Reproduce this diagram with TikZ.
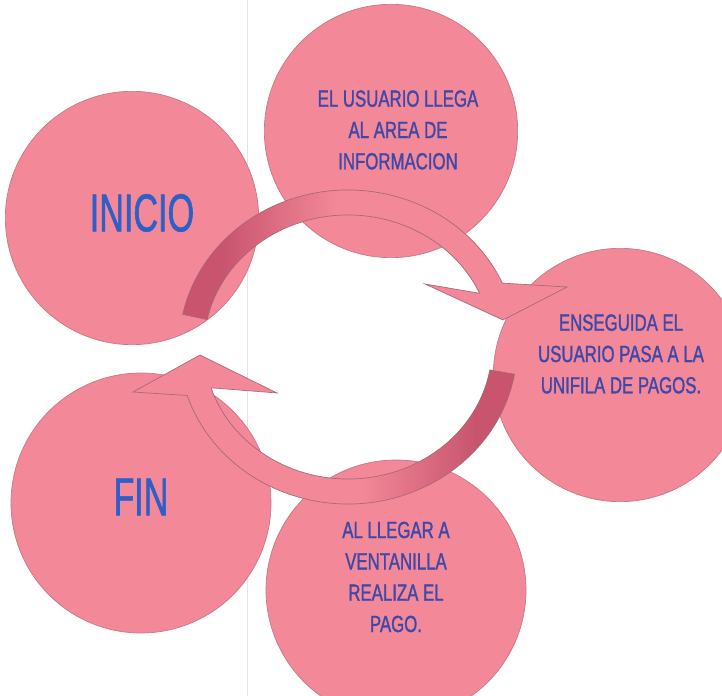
\documentclass[tikz,border=0pt]{standalone}
\usepackage{fontspec}
\setmainfont{Liberation Sans}
\newfontfamily\bigsans[FakeStretch=0.64, FakeBold=1]{Liberation Sans}
\newfontfamily\stepsans[FakeStretch=0.72, FakeBold=1.2]{Liberation Sans}
\usepackage{tikz}

\definecolor{circpink}{RGB}{242,136,152}
\definecolor{circline}{RGB}{200,118,132}
\definecolor{arcdark}{RGB}{200,84,110}
\definecolor{arcline}{RGB}{165,105,120}
\definecolor{titleblue}{RGB}{45,95,200}
\definecolor{stepblue}{RGB}{62,72,168}

\pgfdeclarehorizontalshading{arcfade}{100bp}{color(0bp)=(arcdark); color(30bp)=(arcdark); color(45bp)=(circpink); color(100bp)=(circpink)}

\tikzset{
  stage/.style={circle, fill=circpink, draw=circline, line width=0.5pt, minimum size=190pt, inner sep=0pt},
  bigtext/.style={text=titleblue, font=\bigsans\fontsize{40}{44}\selectfont},
  steptext/.style={text=stepblue, align=center, font=\stepsans\fontsize{17.5}{23.5}\selectfont},
  cyclearrow/.style={shade, shading=arcfade, draw=arcline, line width=0.5pt}
}

\begin{document}
\begin{tikzpicture}[x=0.75pt, y=0.75pt]

  \useasboundingbox (0,0) rectangle (722,696);
  \clip (0,0) rectangle (722,696);

  \draw[gray!20, line width=0.75pt] (247,0) -- (247,696);

  \node[stage] (inicio) at (132,478) {};
  \node[stage] (usuario) at (391,565) {};
  \node[stage] (enseguida) at (620,321) {};
  \node[stage, minimum size=195pt] (fin) at (141,193) {};
  \node[stage, minimum size=195pt] (ventanilla) at (396,106) {};

  \coordinate (ring) at (348,349);

  \begin{scope}[shift={(ring)}]
    \path[cyclearrow] (168:169 and 157)
      arc[start angle=168, end angle=24, x radius=169, y radius=157]
      -- (219,60) -- (155,27) -- (77,63)
      -- (24:144 and 132)
      arc[start angle=24, end angle=168, x radius=144, y radius=132] -- cycle;
    \path[cyclearrow, shading angle=180] (-10:169 and 157)
      arc[start angle=-10, end angle=-162, x radius=169, y radius=157]
      -- (-215,-45) -- (-148,-8) -- (-71,-46)
      -- (-162:144 and 132)
      arc[start angle=-162, end angle=-10, x radius=144, y radius=132] -- cycle;
  \end{scope}

  \node[bigtext] (inicio-txt) at (142,483) {INICIO};
  \node[steptext] (usuario-txt) at (398,566) {EL USUARIO LLEGA\\AL AREA DE\\INFORMACION};
  \node[steptext] (enseguida-txt) at (621,342) {ENSEGUIDA EL\\USUARIO PASA A LA\\UNIFILA DE PAGOS.};
  \node[bigtext] (fin-txt) at (141,199) {FIN};
  \node[steptext] (ventanilla-txt) at (396,119) {AL LLEGAR A\\VENTANILLA\\REALIZA EL\\PAGO.};

\end{tikzpicture}
\end{document}
